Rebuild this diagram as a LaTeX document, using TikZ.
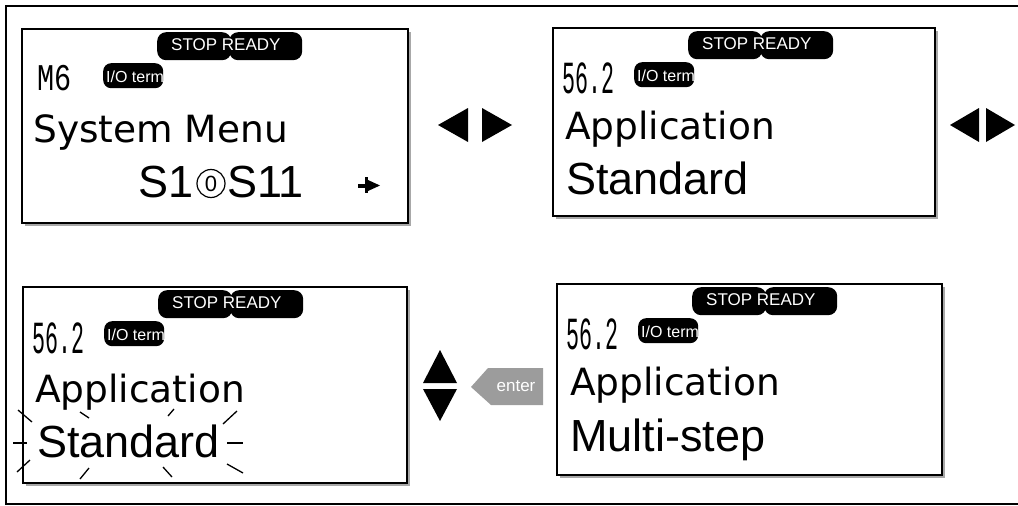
\documentclass[tikz,border=0pt]{standalone}
\usepackage{fontspec}
\setmainfont{DejaVu Sans}
\newfontfamily\arialfont{Liberation Sans}
\newfontfamily\segfont{Liberation Mono}
\usepackage{graphicx}
\usetikzlibrary{positioning,calc,shadows}

\definecolor{shadowgray}{HTML}{A8A8A8}
\definecolor{keygray}{HTML}{9C9C9C}

\begin{document}
\begin{tikzpicture}[
    x=1pt, y=-1pt,
    frame/.style={line width=1.6pt},
    panel/.style={
        rectangle,
        draw,
        line width=1.6pt,
        fill=white,
        anchor=north west,
        inner sep=0pt,
        drop shadow={shadow xshift=3pt, shadow yshift=-3pt, fill=shadowgray, opacity=1}
    },
    blob/.style={rectangle, fill=black, rounded corners=9pt, anchor=north west,
        inner sep=0pt, minimum height=28pt},
    ioblob/.style={blob, rounded corners=8pt, minimum width=60pt, minimum height=25pt},
    status/.style={font=\arialfont\fontsize{17pt}{20pt}\selectfont, text=white, inner sep=0pt, anchor=base west},
    iotext/.style={font=\arialfont\fontsize{16pt}{19pt}\selectfont, text=white, inner sep=0pt, anchor=base west},
    segtext/.style={font=\segfont\fontsize{46pt}{48pt}\selectfont, inner sep=0pt, anchor=base west},
    lineA/.style={font=\fontsize{37.5pt}{42pt}\selectfont, inner sep=0pt, anchor=base west},
    lineB/.style={font=\arialfont\fontsize{45pt}{50pt}\selectfont, inner sep=0pt, anchor=base west},
    zeroring/.style={circle, draw, line width=1.2pt, minimum size=28pt, inner sep=0pt,
        font=\arialfont\fontsize{22pt}{24pt}\selectfont},
    flash/.style={line width=1.3pt},
    keyword/.style={font=\arialfont\fontsize{17pt}{20pt}\selectfont, text=white, inner sep=0pt}
]
\useasboundingbox (0,0) rectangle (1018,506);

% ---------------------------------------------------------------- Frame
\draw[frame] (1018,6) -- (6,6) -- (6,504) -- (1018,504);

% ---------------------------------------------------------------- Panels
\node[panel, minimum width=386pt, minimum height=194pt] (menu)     at (21,28)  {};
\node[panel, minimum width=382pt, minimum height=188pt] (appStd)   at (552,27) {};
\node[panel, minimum width=384pt, minimum height=196pt] (appEdit)  at (22,286) {};
\node[panel, minimum width=385pt, minimum height=191pt] (appMulti) at (556,283) {};

% ---------------------------------------------------------------- Status lines
\foreach \pnl in {menu, appStd, appEdit, appMulti} {
    \node[blob, minimum width=74pt] (\pnl Stop)  at ($(\pnl.north west)+(136,4)$) {};
    \node[blob, minimum width=73pt] (\pnl Ready) at ($(\pnl.north west)+(208,4)$) {};
    \node[status] (\pnl Status) at ($(\pnl.north west)+(150,22)$) {STOP READY};
    \node[ioblob] (\pnl IO) at ($(\pnl.north west)+(82,35)$) {};
    \node[iotext] (\pnl Term) at ($(\pnl.north west)+(85,54)$) {I/O term};
}

% ---------------------------------------------------------------- Menu codes
\node[segtext] (menuCode)     at ($(menu.north west)+(16,62)$)     {\scalebox{0.62}[0.82]{M6}};
\node[segtext] (appStdCode)   at ($(appStd.north west)+(10,66)$)   {\scalebox{0.47}[1]{56.2}};
\node[segtext] (appEditCode)  at ($(appEdit.north west)+(10,67)$)  {\scalebox{0.47}[1]{56.2}};
\node[segtext] (appMultiCode) at ($(appMulti.north west)+(10,66)$) {\scalebox{0.47}[1]{56.2}};

% ---------------------------------------------------------------- Texts
\node[lineA] (menuTitle)     at ($(menu.north west)+(12,114)$)     {System Menu};
\node[lineA] (appStdTitle)   at ($(appStd.north west)+(13,112)$)   {Application};
\node[lineA] (appEditTitle)  at ($(appEdit.north west)+(13,116)$)  {Application};
\node[lineA] (appMultiTitle) at ($(appMulti.north west)+(14,112)$) {Application};

\node[lineB] (menuFrom) at ($(menu.north west)+(117,169)$) {S1};
\node[zeroring] (menuRing) at ($(menu.north west)+(190,155.5)$) {0};
\node[lineB] (menuTo) at ($(menu.north west)+(206,169)$) {S11};
\node[lineB] (appStdValue)   at ($(appStd.north west)+(14,167)$)   {Standard};
\node[lineB] (appEditValue)  at ($(appEdit.north west)+(15,171)$)  {Standard};
\node[lineB] (appMultiValue) at ($(appMulti.north west)+(14,168)$) {Multi-step};

% small arrow mark after S11
\fill (358,184) rectangle (371,187.5);
\fill (364.5,177) rectangle (368,193);
\fill (368,180) -- (380,185.5) -- (368,191) -- cycle;

% blinking value
\foreach \ax/\ay/\bx/\by in {-4/124/10/136, 58/126/67/132, 146/130/152/123, 201/138/215/125,
    -9/157/5/157, 205/157/221/157, -5/186/8/174, 58/193/67/182, 141/181/150/191, 205/178/221/187}
    \draw[flash] ($(appEdit.north west)+(\ax,\ay)$) -- ($(appEdit.north west)+(\bx,\by)$);

% ---------------------------------------------------------------- Keys
% left / right
\fill (468,108) -- (438,125) -- (468,142) -- cycle;
\fill (482,108) -- (512,125) -- (482,142) -- cycle;
\fill (979,108) -- (950,125) -- (979,142) -- cycle;
\fill (986,108) -- (1015,125) -- (986,142) -- cycle;
% up / down
\fill (423,383) -- (440,350) -- (457,383) -- cycle;
\fill (423,389) -- (457,389) -- (440,421) -- cycle;
% enter
\fill[keygray] (471,387) -- (488,368) -- (543,368) -- (543,405) -- (491,405) -- cycle;
\node[keyword] (enterKey) at (516,386) {enter};

\end{tikzpicture}
\end{document}
